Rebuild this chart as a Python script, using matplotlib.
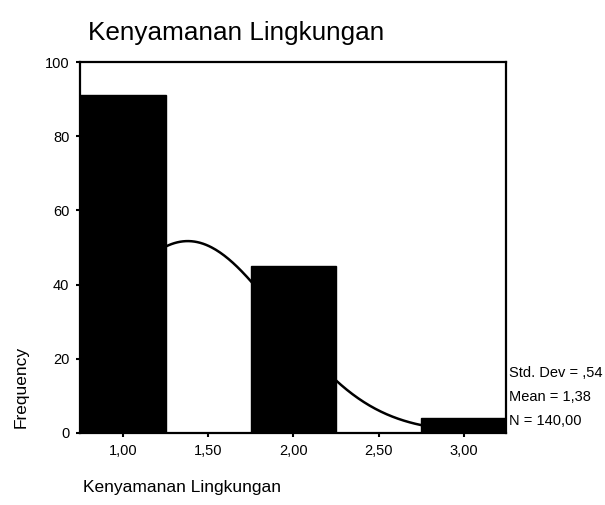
import numpy as np
import matplotlib
matplotlib.use('Agg')
import matplotlib.pyplot as plt

# data
categories = [1.0, 2.0, 3.0]
frequencies = [91, 45, 4]
bin_width = 0.5
mean = 1.38
std_dev = 0.54
n_total = 140

xticks = [1.0, 1.5, 2.0, 2.5, 3.0]
xtick_labels = ['1,00', '1,50', '2,00', '2,50', '3,00']
yticks = [0, 20, 40, 60, 80, 100]

plt.rcParams['font.family'] = ['Liberation Sans', 'DejaVu Sans']

fig = plt.figure(figsize=(6.05, 5.05), dpi=100)
ax = fig.add_axes([0.133, 0.143, 0.704, 0.734])

# normal curve behind the bars
xs = np.linspace(0.75, 3.25, 300)
pdf = np.exp(-0.5 * ((xs - mean) / std_dev) ** 2) / (std_dev * np.sqrt(2 * np.pi))
ax.plot(xs, n_total * bin_width * pdf, color='black', lw=1.8, zorder=1)

ax.bar(categories, frequencies, width=bin_width, color='black',
       edgecolor='black', zorder=2)

ax.set_xlim(0.75, 3.25)
ax.set_ylim(0, 100)
ax.set_xticks(xticks)
ax.set_xticklabels(xtick_labels)
ax.set_yticks(yticks)
ax.tick_params(axis='both', direction='out', length=3, width=1.5,
               labelsize=10.5, pad=5)
for s in ax.spines.values():
    s.set_linewidth(1.6)

fig.text(0.145, 0.935, 'Kenyamanan Lingkungan', fontsize=18.8, ha='left', va='center')
fig.text(0.137, 0.035, 'Kenyamanan Lingkungan', fontsize=12.5, ha='left', va='center')
fig.text(0.035, 0.234, 'Frequency', fontsize=12.5, rotation=90, ha='center', va='center')

fig.text(0.841, 0.262, 'Std. Dev = ,54', fontsize=10.5, ha='left', va='center')
fig.text(0.841, 0.213, 'Mean = 1,38', fontsize=10.5, ha='left', va='center')
fig.text(0.841, 0.166, 'N = 140,00', fontsize=10.5, ha='left', va='center')

fig.savefig('out.png', dpi=100)
